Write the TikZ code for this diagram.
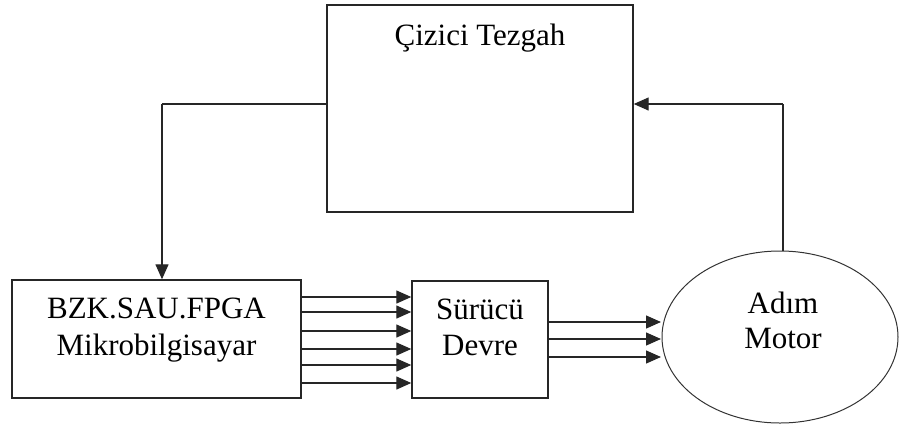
\documentclass[tikz,border=0pt]{standalone}
\usepackage{fontspec}
\setmainfont{Liberation Serif}
\usetikzlibrary{shapes.geometric,arrows.meta}
\begin{document}
\begin{tikzpicture}[x=1pt,y=-1pt,
  blockbox/.style={draw=black!85,line width=1.4pt,inner sep=0pt},
  lbl/.style={anchor=base,inner sep=0pt,font=\fontsize{31}{37}\selectfont,text=black},
  arr/.style={draw=black!85,line width=1.3pt,-{Triangle[length=15pt,width=13pt]}},
  wire/.style={draw=black!85,line width=1.3pt}]
\useasboundingbox (0,0) rectangle (900,429);

% blocks
\node[blockbox,minimum width=306pt,minimum height=207pt] (tezgah) at (480,108.5) {};
\node[blockbox,minimum width=289pt,minimum height=118pt] (mcu) at (156.5,339) {};
\node[blockbox,minimum width=136pt,minimum height=117pt] (drv) at (480,339.5) {};
\node[draw=black!80,line width=1pt,ellipse,inner sep=0pt,
      minimum width=236pt,minimum height=172pt] (motor) at (780,337) {};

% labels
\node[lbl] (tezgahtxt) at (480,45) {Çizici Tezgah};
\node[lbl] (mcutxt1) at (156.5,318) {BZK.SAU.FPGA};
\node[lbl] (mcutxt2) at (156.5,355) {Mikrobilgisayar};
\node[lbl] (drvtxt1) at (480,319) {Sürücü};
\node[lbl] (drvtxt2) at (480,355) {Devre};
\node[lbl] (motortxt1) at (783,313) {Adım};
\node[lbl] (motortxt2) at (783,348) {Motor};

% six lines from the microcomputer to the driver
\foreach \yy in {297,312,331,349,365,383}
  \draw[arr] (mcu.east |- 0,\yy) -- (drv.west |- 0,\yy);

% three phases from the driver to the motor
\foreach \yy in {322,339,357}
  \draw[arr] (drv.east |- 0,\yy) -- (661,\yy);

% feedback paths
\coordinate (upR) at (783,104);
\coordinate (upL) at (162,104);
\draw[wire] (motor.north -| upR) -- (upR);
\draw[arr] (upR) -- (tezgah.east |- upR);
\draw[wire] (tezgah.west |- upL) -- (upL);
\draw[arr] (upL) -- (mcu.north -| upL);
\end{tikzpicture}
\end{document}
